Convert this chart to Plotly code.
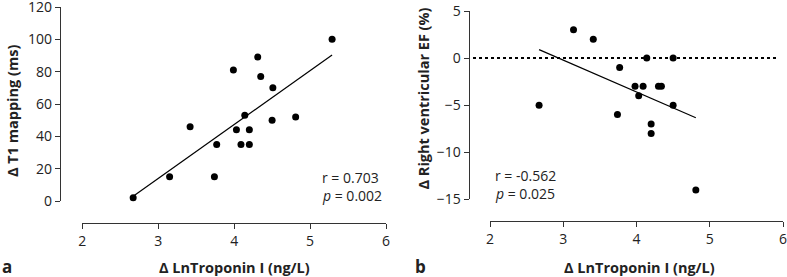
import numpy as np
import plotly.graph_objects as go

# Panel a: Δ LnTroponin I vs Δ T1 mapping
troponin_a = [2.67, 3.15, 3.42, 3.74, 3.77, 3.99, 4.03, 4.09, 4.14, 4.20, 4.20, 4.31, 4.35, 4.51, 4.50, 4.81, 5.29]
t1_mapping = [2, 15, 46, 15, 35, 81, 44, 35, 53, 44, 35, 89, 77, 70, 50, 52, 100]

# Panel b: Δ LnTroponin I vs Δ Right ventricular EF
troponin_b = [2.67, 3.14, 3.41, 3.74, 3.77, 3.98, 4.03, 4.09, 4.14, 4.20, 4.20, 4.30, 4.34, 4.50, 4.50, 4.81]
rv_ef = [-5, 3, 2, -6, -1, -3, -4, -3, 0, -7, -8, -3, -3, 0, -5, -14]

x_ticks = [2, 3, 4, 5, 6]
y_ticks_a = [0, 20, 40, 60, 80, 100, 120]
y_ticks_b = [-15, -10, -5, 0, 5]

W, H = 787, 277
FONT = "Open Sans"
AX = "#333333"


def px(x):
    return x / W


def py(y):
    return 1 - y / H


def fit(xs, ys):
    xs = np.asarray(xs, float)
    ys = np.asarray(ys, float)
    m, b = np.polyfit(xs, ys, 1)
    xl = np.array([xs.min(), xs.max()])
    return xl, m * xl + b


fig = go.Figure()

fa_x, fa_y = fit(troponin_a, t1_mapping)
fb_x, fb_y = fit(troponin_b, rv_ef)

fig.add_trace(go.Scatter(x=fa_x, y=fa_y, mode="lines", line=dict(color="black", width=1.2),
                         xaxis="x", yaxis="y", showlegend=False, cliponaxis=False))
fig.add_trace(go.Scatter(x=troponin_a, y=t1_mapping, mode="markers",
                         marker=dict(color="black", size=7), xaxis="x", yaxis="y",
                         showlegend=False, cliponaxis=False))
fig.add_trace(go.Scatter(x=fb_x, y=fb_y, mode="lines", line=dict(color="black", width=1.2),
                         xaxis="x2", yaxis="y2", showlegend=False, cliponaxis=False))
fig.add_trace(go.Scatter(x=troponin_b, y=rv_ef, mode="markers",
                         marker=dict(color="black", size=7), xaxis="x2", yaxis="y2",
                         showlegend=False, cliponaxis=False))

tick_font = dict(family=FONT, size=14, color="#222222")
common = dict(showgrid=False, zeroline=False, showline=True, linecolor=AX, linewidth=1.3,
              ticks="outside", ticklen=5, tickwidth=1.3, tickcolor=AX, tickfont=tick_font,
              automargin=False, ticklabeloverflow="allow", fixedrange=True)

fig.update_layout(
    width=W, height=H,
    margin=dict(l=0, r=0, t=0, b=0, pad=0),
    paper_bgcolor="white", plot_bgcolor="white",
    xaxis=dict(domain=[px(82.3), px(386)], range=[2, 6], tickvals=x_ticks,
               anchor="free", position=py(222.7), **common),
    yaxis=dict(domain=[py(201), py(7)], range=[0, 120], tickvals=y_ticks_a,
               anchor="free", position=px(60), **common),
    xaxis2=dict(domain=[px(490), px(783)], range=[2, 6], tickvals=x_ticks,
                anchor="free", position=py(220.7), **common),
    yaxis2=dict(domain=[py(199.3), py(11)], range=[-15, 5], tickvals=y_ticks_b,
                anchor="free", position=px(468.7), **common),
    shapes=[dict(type="line", xref="paper", yref="y2", x0=px(473), x1=px(779), y0=0, y1=0,
                 line=dict(color="black", width=2, dash="dot"))],
)

ann_font = dict(family=FONT, size=14, color="#222222")
title_font = dict(family=FONT, size=14.5, color="#222222")
annotations = [
    dict(text="r = 0.703", x=px(319.5), y=py(177.3), xanchor="left", yanchor="middle"),
    dict(text="<i>p</i> = 0.002", x=px(319.5), y=py(195.5), xanchor="left", yanchor="middle"),
    dict(text="r = -0.562", x=px(493), y=py(175.5), xanchor="left", yanchor="middle"),
    dict(text="<i>p</i> = 0.025", x=px(493), y=py(193.5), xanchor="left", yanchor="middle"),
]
for a in annotations:
    fig.add_annotation(xref="paper", yref="paper", showarrow=False, font=ann_font, **a)

titles = [
    dict(text="<b>Δ LnTroponin I (ng/L)</b>", x=px(234.5), y=py(267), textangle=0),
    dict(text="<b>Δ LnTroponin I (ng/L)</b>", x=px(639), y=py(267), textangle=0),
    dict(text="<b>Δ T1 mapping (ms)</b>", x=px(13), y=py(111), textangle=-90),
    dict(text="<b>Δ Right ventricular EF (%)</b>", x=px(423.5), y=py(99), textangle=-90),
]
for t in titles:
    fig.add_annotation(xref="paper", yref="paper", showarrow=False, font=title_font,
                       xanchor="center", yanchor="middle", **t)

for lab, x in [("a", 7), ("b", 421)]:
    fig.add_annotation(xref="paper", yref="paper", showarrow=False,
                       font=dict(family=FONT, size=17, color="#222222"),
                       text=f"<b>{lab}</b>", x=px(x), y=py(266), xanchor="center", yanchor="middle")

fig.write_html("out.html", config={"displayModeBar": False},
               post_script="document.body.style.margin='0';document.body.style.overflow='hidden';")
